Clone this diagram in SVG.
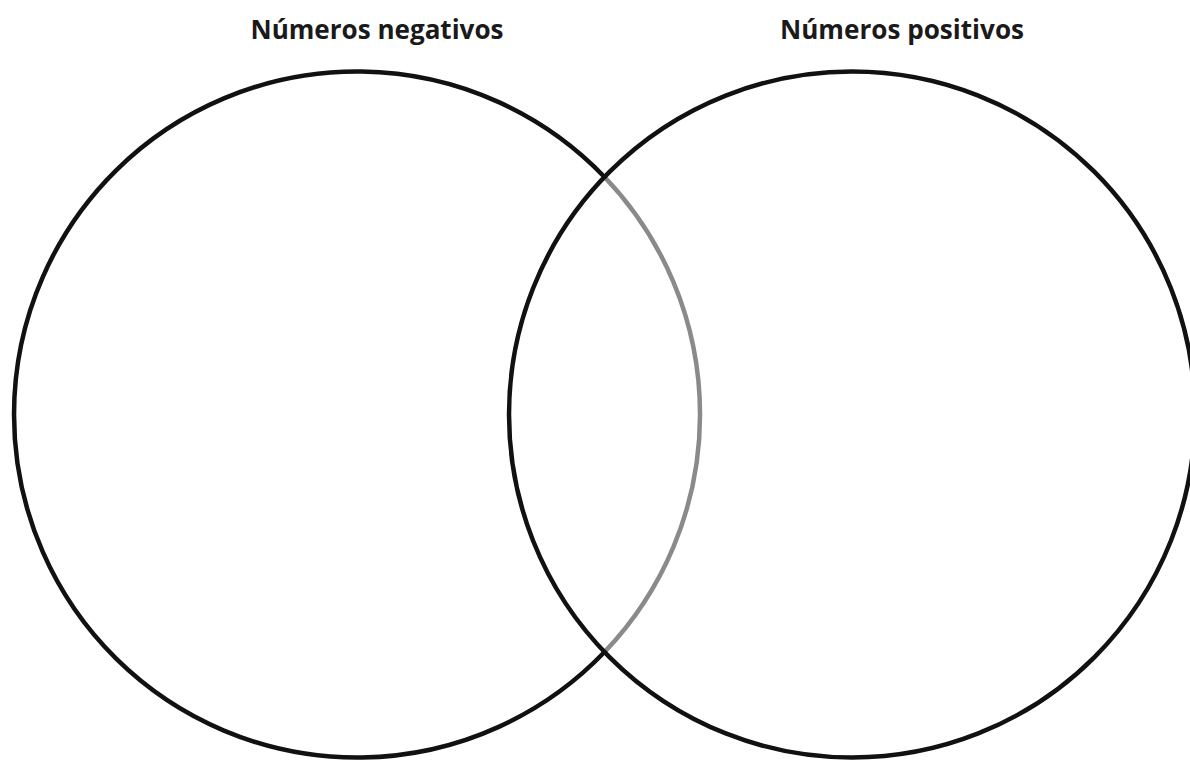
<svg xmlns="http://www.w3.org/2000/svg" width="1190" height="762" viewBox="0 0 1190 762">
<style>
.ring{fill:none;stroke:#111;stroke-width:4.5}
.inner{fill:none;stroke:#8a8a8a;stroke-width:4.5}
.title{font-family:"Open Sans","Liberation Sans",sans-serif;font-weight:700;font-size:26px;fill:#1a1a1a;text-anchor:middle}
</style>
<rect width="1190" height="762" fill="#fff"/>
<g id="negativos">
<path class="ring" d="M604.5,177 A343,343 0 1 0 604.5,652"/>
<path class="inner" d="M604.5,177 A343,343 0 0 1 604.5,652"/>
<text class="title" x="377" y="39" textLength="253" lengthAdjust="spacingAndGlyphs">Números negativos</text>
</g>
<g id="positivos">
<circle class="ring" cx="852" cy="414.5" r="343"/>
<text class="title" x="902" y="39" textLength="244" lengthAdjust="spacingAndGlyphs">Números positivos</text>
</g>
<g id="connectors"></g>
</svg>
